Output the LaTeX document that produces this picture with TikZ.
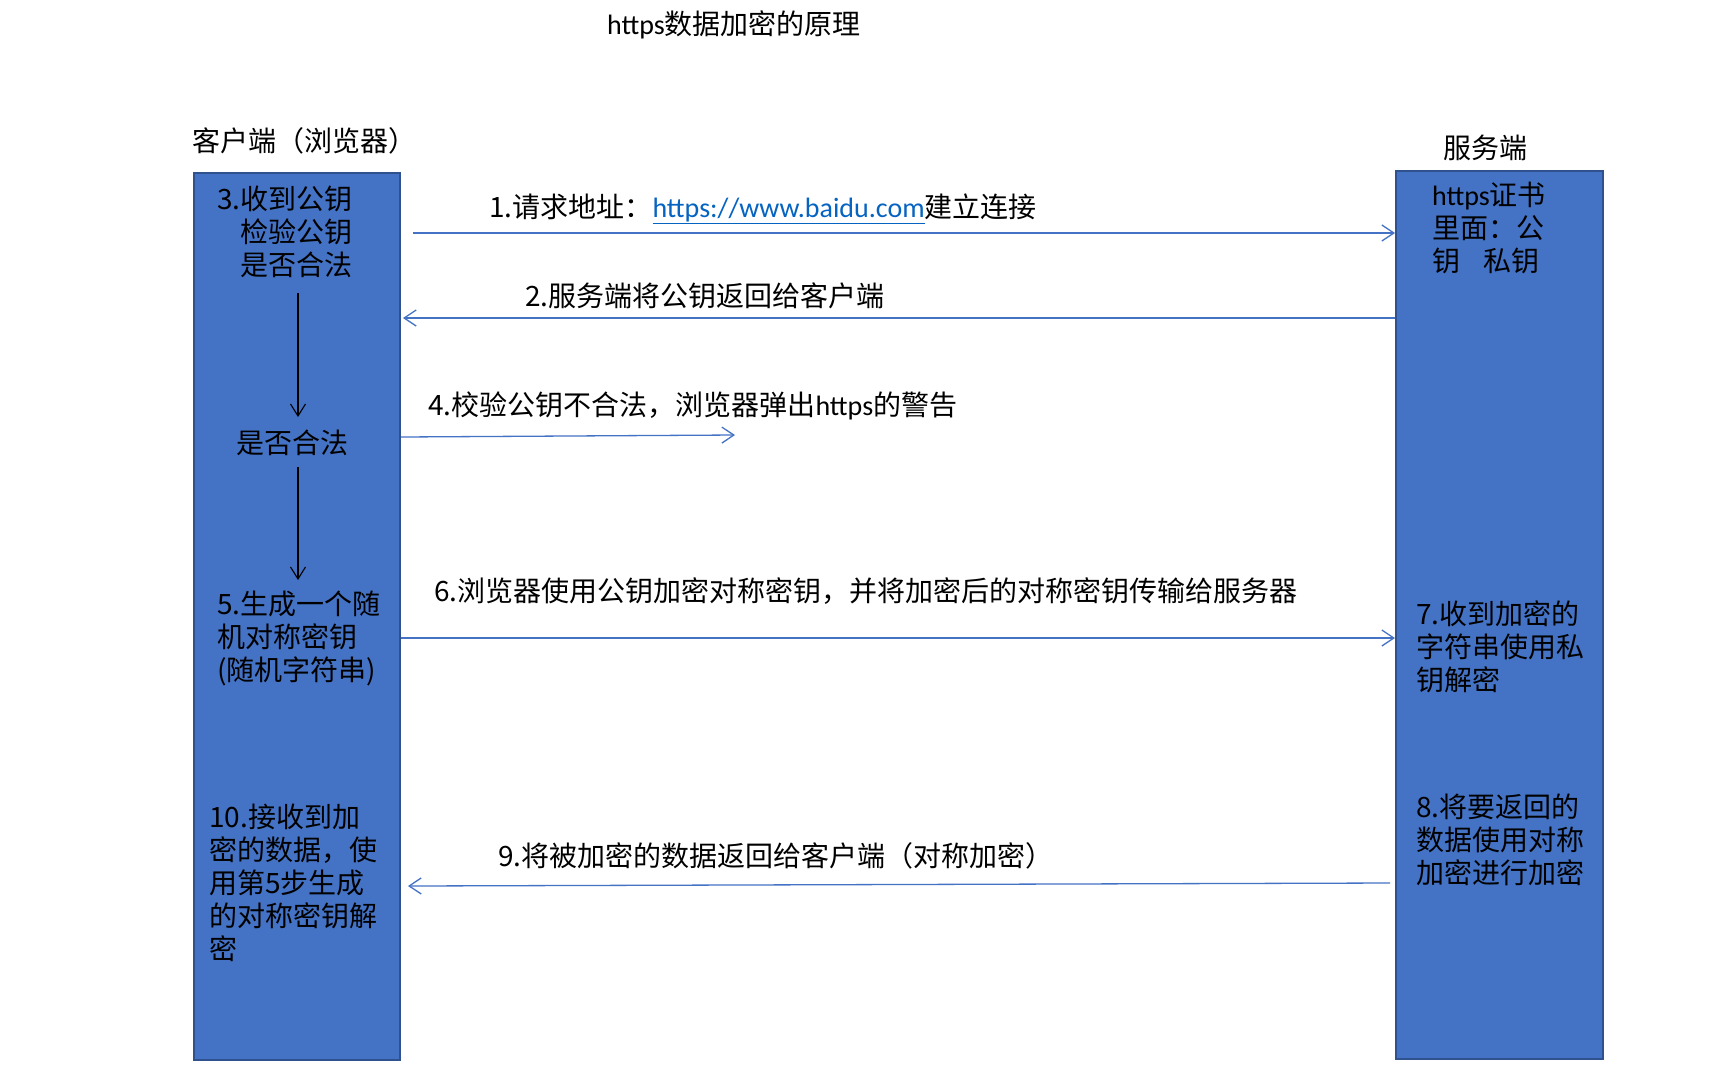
\documentclass[tikz,border=0pt]{standalone}
\usepackage{fontspec}
\setmainfont{Noto Sans CJK SC}
\newfontfamily\latf{Carlito}
\usetikzlibrary{arrows.meta}
\definecolor{boxfill}{HTML}{4472C4}
\definecolor{boxline}{HTML}{2F528F}
\definecolor{msgline}{HTML}{4472C4}
\definecolor{urlc}{HTML}{0563C1}
\begin{document}
\begin{tikzpicture}[x=1pt,y=-1pt,
  lane/.style={draw=boxline,line width=2pt,fill=boxfill,inner sep=0,anchor=north west},
  txt/.style={inner sep=0,font=\fontsize{28}{33}\selectfont,align=left},
  msg/.style={draw=msgline,line width=1.3pt,-{Straight Barb[length=12pt,width=16pt]}},
  flow/.style={draw=black,line width=1.1pt,-{Straight Barb[length=12pt,width=15pt]}}]
\useasboundingbox[fill=white] (0,0) rectangle (1731,1080);
% lanes
\node[lane,minimum width=206pt,minimum height=887pt] (client) at (193,172) {};
\node[lane,minimum width=207pt,minimum height=888pt] (server) at (1395,170) {};
% headings
\node[txt,anchor=west] (title) at (607,25) {{\latf https}数据加密的原理};
\node[txt,anchor=west] (clientlbl) at (192,141) {客户端（浏览器）};
\node[txt,anchor=west] (serverlbl) at (1443,148) {服务端};
% client texts
\node[txt,anchor=north west] (s3) at (217,186) {3.收到公钥\\\hphantom{3.}检验公钥\\\hphantom{3.}是否合法};
\node[txt,anchor=west] (check) at (236,443) {是否合法};
\node[txt,anchor=north west] (s5) at (217,591) {5.生成一个随\\机对称密钥\\(随机字符串)};
\node[txt,anchor=north west] (s10) at (209,804) {10.接收到加\\密的数据，使\\用第5步生成\\的对称密钥解\\密};
% server texts
\node[txt,anchor=north west] (cert) at (1432,182) {{\latf https}证书\\里面：公\\钥\hspace{23pt}私钥};
\node[txt,anchor=north west] (s7) at (1416,600) {7.收到加密的\\字符串使用私\\钥解密};
\node[txt,anchor=north west] (s8) at (1416,794) {8.将要返回的\\数据使用对称\\加密进行加密};
% internal flow
\coordinate (f1s) at (298,293);
\coordinate (f1e) at (298,417);
\coordinate (f2s) at (298,467);
\coordinate (f2e) at (298,580);
\draw[flow] (f1s) -- (f1e);
\draw[flow] (f2s) -- (f2e);
% messages
\coordinate (m1s) at (413,233);
\draw[msg] (m1s) -- (m1s -| server.west);
\node[txt,anchor=west] (l1) at (489,209) {1.请求地址：{\color{urlc}\underline{\latf https://www.baidu.com}}建立连接};
\coordinate (m2s) at (1395,318);
\coordinate (m2e) at (403,318);
\draw[msg] (m2s) -- (m2e);
\node[txt,anchor=west] (l2) at (525,296) {2.服务端将公钥返回给客户端};
\coordinate (m4s) at (401,437);
\coordinate (m4e) at (735,435);
\draw[msg] (m4s) -- (m4e);
\node[txt,anchor=west] (l4) at (428,406) {4.校验公钥不合法，浏览器弹出{\latf https}的警告};
\coordinate (m6s) at (401,638);
\draw[msg] (m6s) -- (m6s -| server.west);
\node[txt,anchor=west] (l6) at (434,591) {6.浏览器使用公钥加密对称密钥，并将加密后的对称密钥传输给服务器};
\coordinate (m9s) at (1390,883);
\coordinate (m9e) at (408,886);
\draw[msg] (m9s) -- (m9e);
\node[txt,anchor=west] (l9) at (498,856) {9.将被加密的数据返回给客户端（对称加密）};
\end{tikzpicture}
\end{document}
